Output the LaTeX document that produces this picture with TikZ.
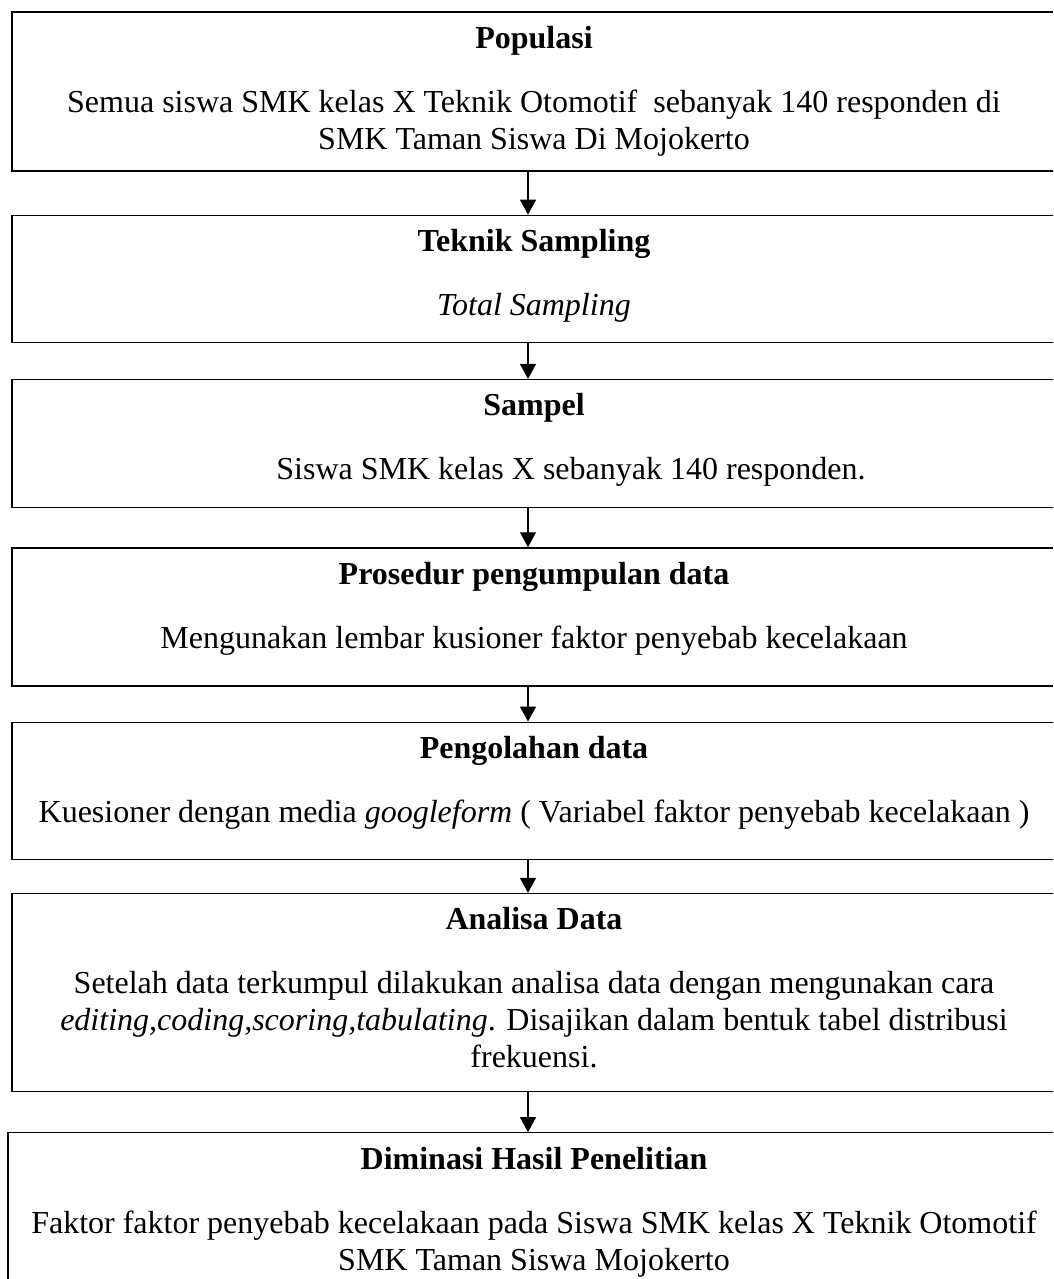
\documentclass[tikz,border=0pt]{standalone}
\usepackage{fontspec}
\setmainfont{Liberation Serif}
\usepackage{tikz}
\usetikzlibrary{arrows.meta, positioning}

\begin{document}
\begin{tikzpicture}[x=1pt, y=1pt, >={Triangle[width=16pt,length=15pt]},
    font=\fontsize{32}{37}\selectfont,
    every node/.style={align=center},
    stepbox/.style={draw, line width=1.3pt, minimum width=1044pt, inner sep=0pt},
    boxtitle/.style={font=\fontsize{32}{37}\selectfont\bfseries, inner sep=0pt, anchor=base},
    boxbody/.style={inner sep=0pt, anchor=base},
    flow/.style={->, line width=1.3pt}]
  \useasboundingbox (0,0) rectangle (1053,-1279);
  \clip (0,0) rectangle (1053,-1279);

  \node[stepbox, minimum height=159pt] (pop) at (534,-91.5) {};
  \node[stepbox, minimum height=127pt, below=43pt of pop] (tek) {};
  \node[stepbox, minimum height=128pt, below=36pt of tek] (sam) {};
  \node[stepbox, minimum height=138pt, below=39pt of sam] (pro) {};
  \node[stepbox, minimum height=137pt, below=35pt of pro] (olah) {};
  \node[stepbox, minimum height=198pt, below=33pt of olah] (ana) {};
  \node[stepbox, minimum width=1052pt, minimum height=180pt,
        below=40pt of ana] (dis) {};

  % titles
  \node[boxtitle] (popT) at ([yshift=-37pt]pop.north) {Populasi};
  \node[boxtitle] (tekT) at ([yshift=-37pt]tek.north) {Teknik Sampling};
  \node[boxtitle] (samT) at ([yshift=-37pt]sam.north) {Sampel};
  \node[boxtitle] (proT) at ([yshift=-37pt]pro.north) {Prosedur pengumpulan data};
  \node[boxtitle] (olahT) at ([yshift=-37pt]olah.north) {Pengolahan data};
  \node[boxtitle] (anaT) at ([yshift=-37pt]ana.north) {Analisa Data};
  \node[boxtitle] (disT) at ([yshift=-37pt]dis.north) {Diminasi Hasil Penelitian};

  % isi (base = last line)
  \node[boxbody] (popB) at ([yshift=-138pt]pop.north)
    {Semua siswa SMK kelas X Teknik Otomotif~ sebanyak 140 responden di\\
     SMK Taman Siswa Di Mojokerto};
  \node[boxbody] (tekB) at ([yshift=-101pt]tek.north) {\textit{Total Sampling}};
  \node[boxbody] (samB) at ([xshift=37pt, yshift=-101pt]sam.north)
    {Siswa SMK kelas X sebanyak 140 responden.};
  \node[boxbody] (proB) at ([yshift=-101pt]pro.north)
    {Mengunakan lembar kusioner faktor penyebab kecelakaan};
  \node[boxbody] (olahB) at ([yshift=-101pt]olah.north)
    {Kuesioner dengan media \textit{googleform} ( Variabel faktor penyebab kecelakaan )};
  \node[boxbody] (anaB) at ([yshift=-175pt]ana.north)
    {Setelah data terkumpul dilakukan analisa data dengan mengunakan cara\\
     \textit{editing,coding,scoring,tabulating}. Disajikan dalam bentuk tabel distribusi\\
     frekuensi.};
  \node[boxbody] (disB) at ([yshift=-138pt]dis.north)
    {Faktor faktor penyebab kecelakaan pada Siswa SMK kelas X Teknik Otomotif\\
     SMK Taman Siswa Mojokerto};

  \draw[flow] ([xshift=-6pt]pop.south) -- ([xshift=-6pt]tek.north);
  \draw[flow] ([xshift=-6pt]tek.south) -- ([xshift=-6pt]sam.north);
  \draw[flow] ([xshift=-6pt]sam.south) -- ([xshift=-6pt]pro.north);
  \draw[flow] ([xshift=-6pt]pro.south) -- ([xshift=-6pt]olah.north);
  \draw[flow] ([xshift=-6pt]olah.south) -- ([xshift=-6pt]ana.north);
  \draw[flow] ([xshift=-6pt]ana.south) -- ([xshift=-6pt]dis.north);
\end{tikzpicture}
\end{document}
